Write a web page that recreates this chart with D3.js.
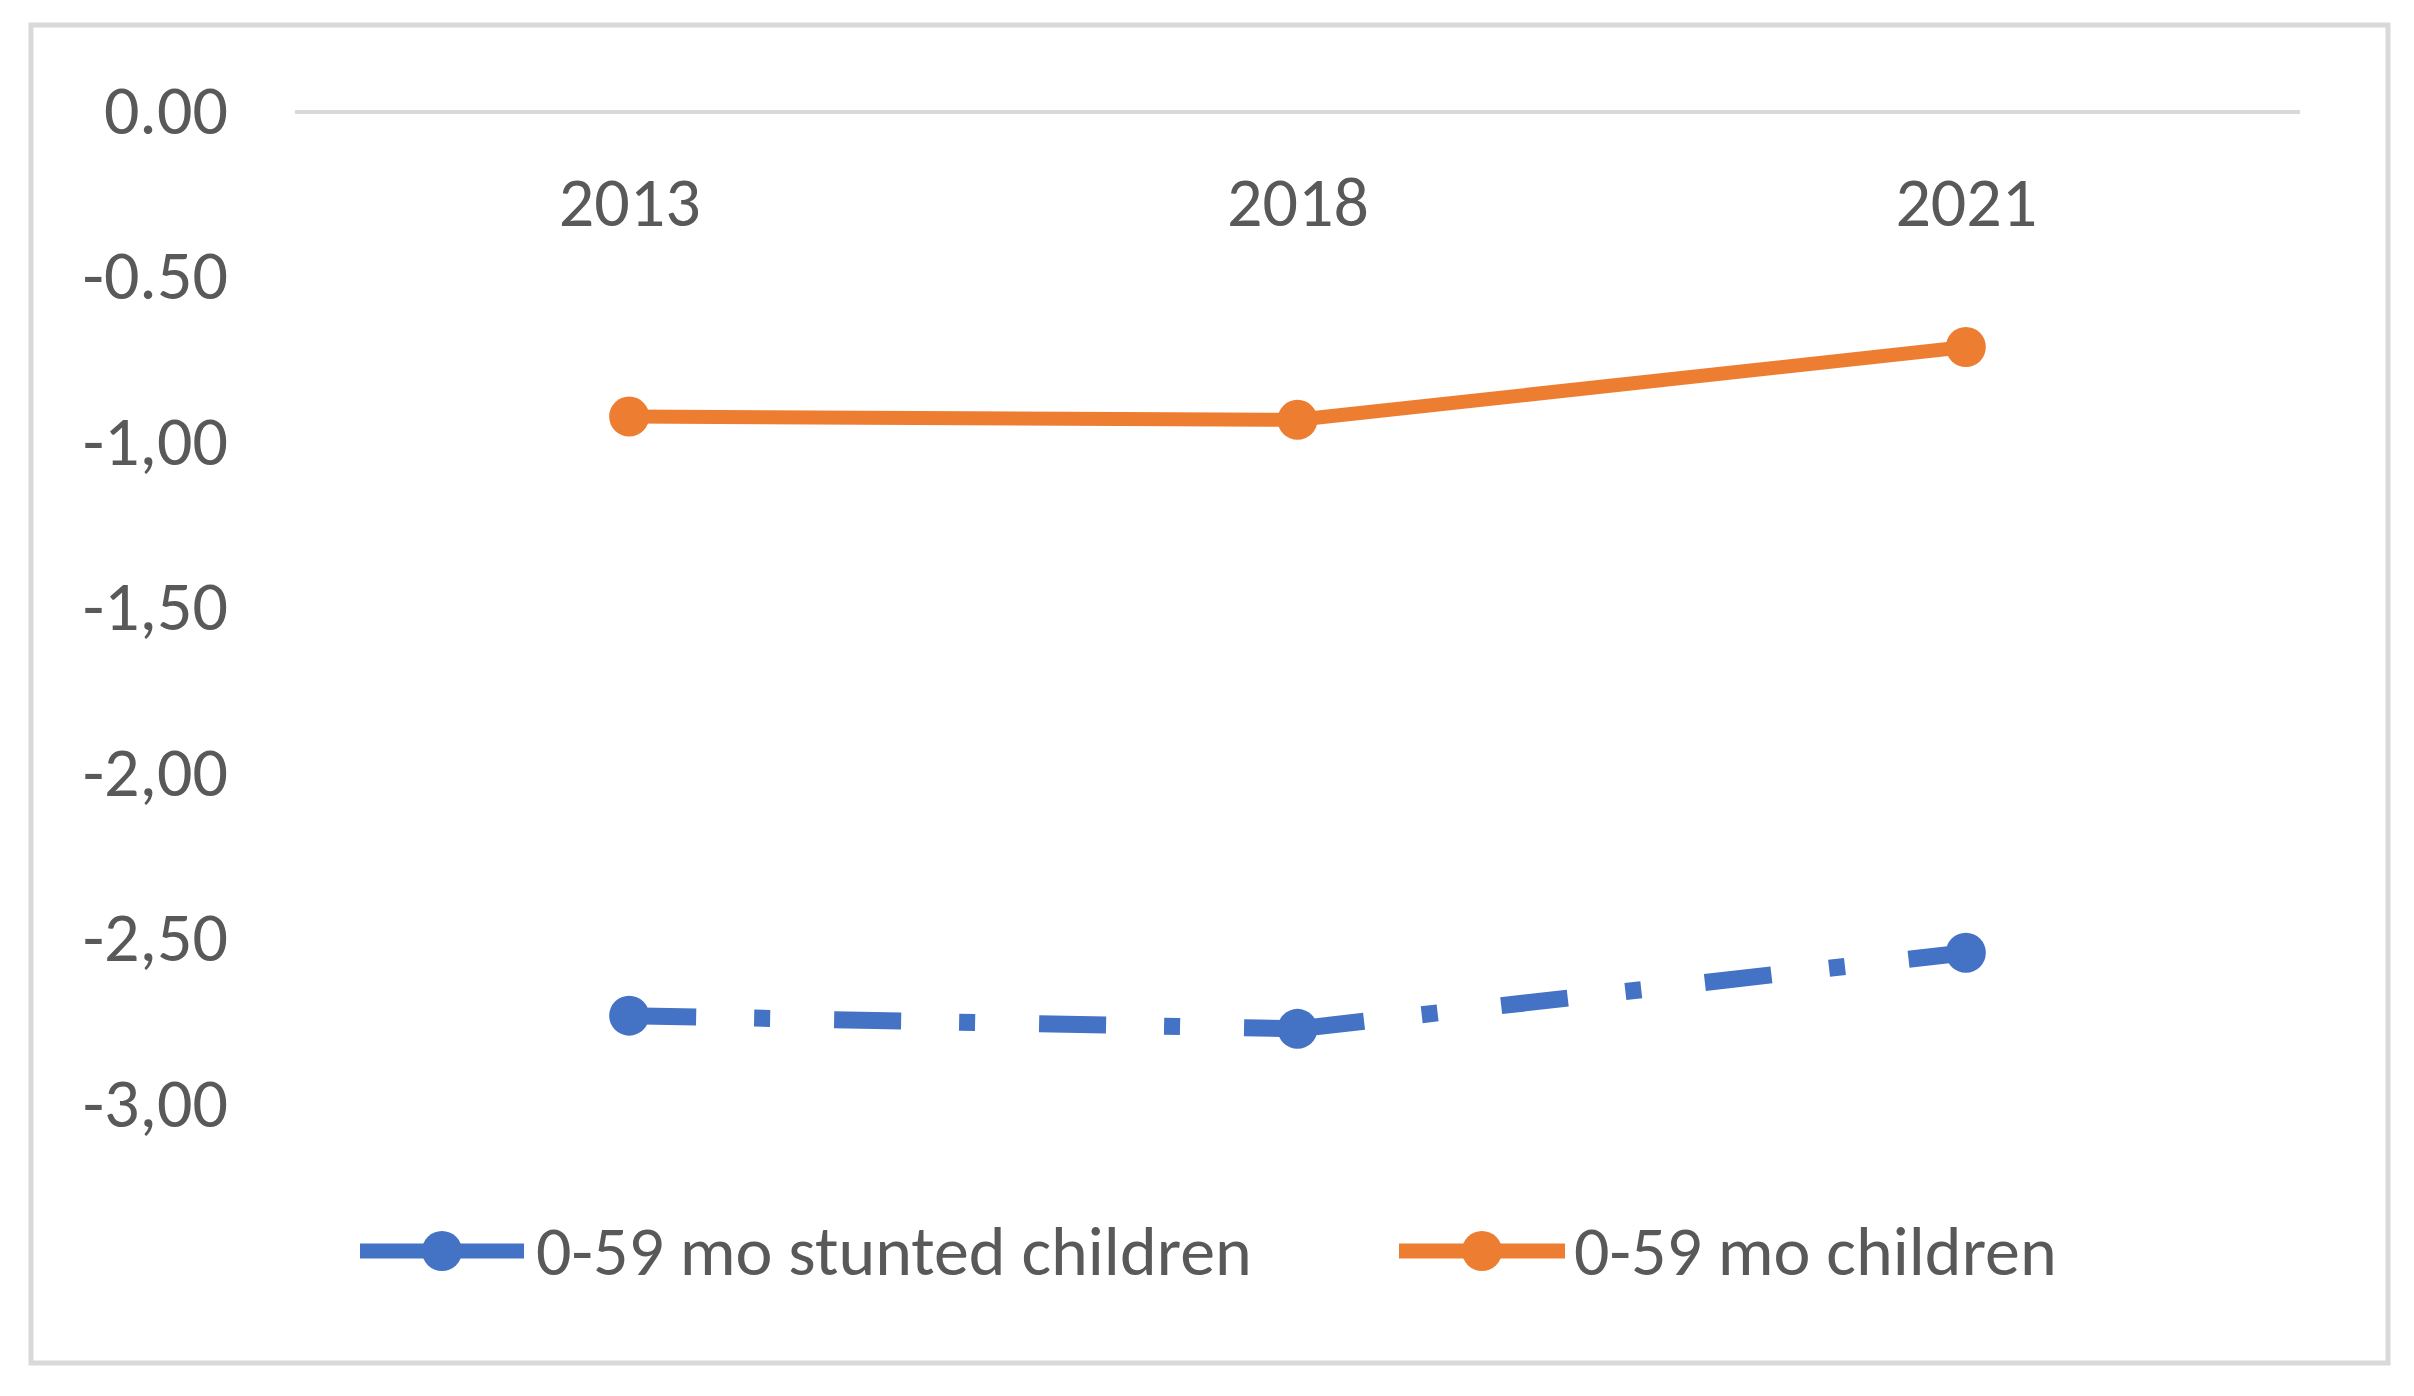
<!DOCTYPE html>
<html>
<head>
<meta charset="utf-8">
<script src="https://cdn.jsdelivr.net/npm/d3@7/dist/d3.min.js"></script>
<style>
  html, body { margin: 0; padding: 0; background: #fff; }
  svg { display: block; }
  text { font-family: Carlito, Calibri, Lato, "Open Sans", sans-serif; fill: #595959; }
</style>
</head>
<body>
<svg id="chart" width="2414" height="1396"></svg>
<script>
// ---- data ----
const years = ["2013", "2018", "2021"];
const stunted = [-2.73, -2.77, -2.54];     // 0-59 mo stunted children
const children = [-0.92, -0.93, -0.71];    // 0-59 mo children
const yTickValues = [0, -0.5, -1, -1.5, -2, -2.5, -3];
const yTickLabels = ["0.00", "-0.50", "-1,00", "-1,50", "-2,00", "-2,50", "-3,00"];
const seriesNames = ["0-59 mo stunted children", "0-59 mo children"];

const blue = "#4472C4", orange = "#ED7D31", grid = "#D9D9D9";
const fontSize = 70;
const ff = "Carlito, Calibri, Lato, 'Open Sans', sans-serif";

const svg = d3.select("#chart");

// outer border
svg.append("rect")
  .attr("x", 31).attr("y", 25).attr("width", 2357).attr("height", 1338)
  .attr("fill", "#fff").attr("stroke", grid).attr("stroke-width", 5);

const x = d3.scalePoint().domain(years).range([295, 2300]).padding(0.5);
const y = d3.scaleLinear().domain([-3, 0]).range([1105, 112]);

// horizontal axis line at 0
svg.append("line")
  .attr("x1", 295).attr("x2", 2300)
  .attr("y1", y(0)).attr("y2", y(0))
  .attr("stroke", grid).attr("stroke-width", 4);

// y axis labels
const yAxis = d3.axisLeft(y).tickValues(yTickValues)
  .tickFormat((d, i) => yTickLabels[i]).tickSize(0).tickPadding(0);
const gy = svg.append("g").attr("transform", "translate(228,0)").call(yAxis);
gy.select(".domain").remove();
gy.selectAll("text").attr("font-size", fontSize).attr("fill", "#595959")
  .style("font-family", ff).attr("dy", "0.3em");

// x axis labels (category labels near the top)
const xAxis = d3.axisBottom(x).tickSize(0).tickPadding(0);
const gx = svg.append("g").attr("transform", "translate(0,226)").call(xAxis);
gx.select(".domain").remove();
gx.selectAll("text").attr("font-size", fontSize).attr("fill", "#595959")
  .style("font-family", ff).attr("dy", 0).attr("y", 0);

const line = d3.line().x(d => x(d.year)).y(d => y(d.value));
const toPts = vals => years.map((yr, i) => ({ year: yr, value: vals[i] }));

// blue dash-dot series: each segment starts its own dash pattern
const bp = toPts(stunted);
const segs = d3.pairs(bp);
svg.append("g").selectAll("path").data(segs).join("path")
  .attr("d", d => line(d))
  .attr("fill", "none").attr("stroke", blue).attr("stroke-width", 17)
  .attr("stroke-dasharray", "67,58,16,64").attr("stroke-linecap", "butt");

// orange solid series
const op = toPts(children);
svg.append("path").attr("d", line(op))
  .attr("fill", "none").attr("stroke", orange).attr("stroke-width", 14)
  .attr("stroke-linejoin", "round");

// markers
svg.append("g").selectAll("circle").data(bp).join("circle")
  .attr("cx", d => x(d.year)).attr("cy", d => y(d.value)).attr("r", 20).attr("fill", blue);
svg.append("g").selectAll("circle").data(op).join("circle")
  .attr("cx", d => x(d.year)).attr("cy", d => y(d.value)).attr("r", 20).attr("fill", orange);

// legend
const legendY = 1251;
const legendItems = [
  { name: seriesNames[0], color: blue, x1: 360, x2: 524, tx: 536 },
  { name: seriesNames[1], color: orange, x1: 1399, x2: 1565, tx: 1574 }
];
const lg = svg.append("g").selectAll("g").data(legendItems).join("g");
lg.append("line")
  .attr("x1", d => d.x1).attr("x2", d => d.x2)
  .attr("y1", legendY).attr("y2", legendY)
  .attr("stroke", d => d.color).attr("stroke-width", 15);
lg.append("circle")
  .attr("cx", d => (d.x1 + d.x2) / 2).attr("cy", legendY).attr("r", 20)
  .attr("fill", d => d.color);
lg.append("text")
  .attr("x", d => d.tx).attr("y", legendY).attr("dy", "0.34em")
  .attr("font-size", fontSize)
  .text(d => d.name);
</script>
</body>
</html>
